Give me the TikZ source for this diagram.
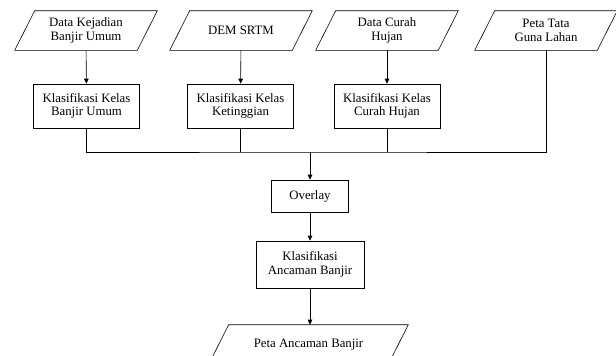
\documentclass[tikz,border=0pt]{standalone}
\usepackage{fontspec}
\setmainfont{Liberation Serif}
\usetikzlibrary{arrows.meta}

\begin{document}
\begin{tikzpicture}[x=1pt, y=-1pt, line width=0.6pt, >={Triangle[length=5pt,width=4.5pt]},
  every node/.style={font=\fontsize{12.8pt}{13.5pt}\selectfont, align=center, inner sep=2pt},
  data/.style={rectangle, minimum width=122pt, minimum height=39pt,
    append after command={\pgfextra{\draw ([xshift=-10pt]\tikzlastnode.south west) -- ([xshift=10pt]\tikzlastnode.north west) -- ([xshift=10pt]\tikzlastnode.north east) -- ([xshift=-10pt]\tikzlastnode.south east) -- cycle;}}},
  proses/.style={draw, rectangle, minimum width=106pt, minimum height=44pt}]

\useasboundingbox (0,0) rectangle (616,356);

\node[data] (data1) at (86,30.5) {Data Kejadian\\Banjir Umum};
\node[data] (data2) at (241,30.5) {DEM SRTM};
\node[data] (data3) at (387,30.5) {Data Curah\\Hujan};
\node[data] (data4) at (546,30.5) {Peta Tata\\Guna Lahan};

\node[proses] (kelas1) at (86.5,106) {Klasifikasi Kelas\\Banjir Umum};
\node[proses] (kelas2) at (240.5,106) {Klasifikasi Kelas\\Ketinggian};
\node[proses] (kelas3) at (387,106) {Klasifikasi Kelas\\Curah Hujan};

\coordinate (bus) at (310,152);

\node[proses, minimum width=77pt, minimum height=32pt] (overlay) at (310,196) {Overlay};
\node[proses, minimum width=108pt, minimum height=47pt] (ancaman) at (310,264.5) {Klasifikasi\\Ancaman Banjir};
\node[data, minimum width=179pt] (peta) at (308.5,344.5) {Peta Ancaman Banjir};

\draw[->] (data1) -- (kelas1);
\draw[->] (data2) -- (kelas2);
\draw[->] (data3) -- (kelas3);

\draw (kelas1.south) |- (bus) -| (data4.south);
\draw (kelas2.south) -- (kelas2.south |- bus);
\draw (kelas3.south) -- (kelas3.south |- bus);
\draw[line width=1pt, ->] (bus) -- (overlay);
\draw[->] (overlay) -- (ancaman);
\draw[->] (ancaman) -- (peta.north -| ancaman);

\end{tikzpicture}
\end{document}
